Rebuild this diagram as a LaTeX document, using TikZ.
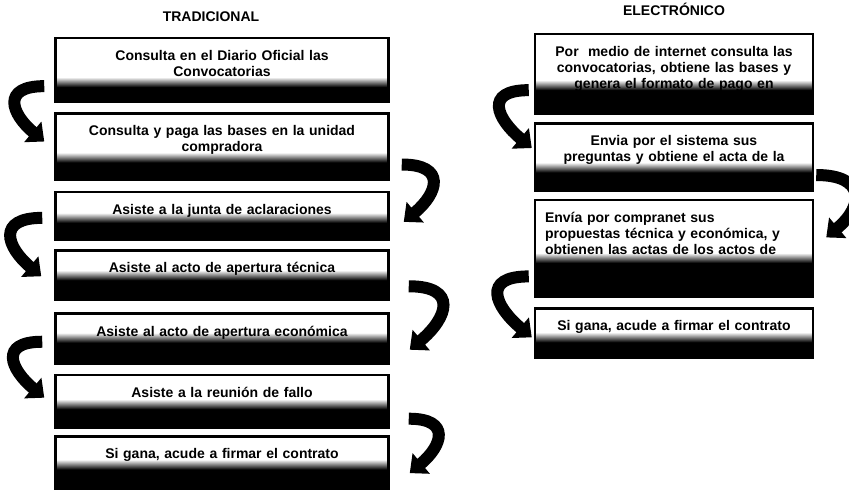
\documentclass[tikz,border=0pt]{standalone}
\usepackage{fontspec}
\setmainfont{Liberation Sans}
\usepackage{tikz}
\usetikzlibrary{arrows.meta, positioning}

\begin{document}
\begin{tikzpicture}[
    node distance=10pt,
    stepbox/.style 2 args={rectangle, draw=black, line width=2.5pt, fill=white, inner xsep=10pt, inner ysep=12pt, align=center, text depth=#1, font=\bfseries\fontsize{14}{16}\selectfont,
        path picture={
            \fill[black] (path picture bounding box.south west) rectangle ([yshift=#2]path picture bounding box.south east);
            \shade[top color=white, middle color=black!55, bottom color=black] ([yshift=#2]path picture bounding box.south west) rectangle ([yshift=#2+10pt]path picture bounding box.south east);
        }},
    tradbox/.style 2 args={stepbox={#1}{#2}, text width=313pt},
    elecbox/.style 2 args={stepbox={#1}{#2}, text width=258pt},
    heading/.style={inner sep=0pt, font=\bfseries\fontsize{14}{16}\selectfont},
    curlarrow/.style={-{Triangle[length=15pt, width=26pt]}, line width=12pt, black}
]
\useasboundingbox (0,0) rectangle (849pt,490pt);

% Tradicional
\node[tradbox={29.7pt}{15pt}, anchor=north] (t1) at (222pt,453pt) {Consulta en el Diario Oficial las\\Convocatorias};
\node[tradbox={31.7pt}{17pt}, below=9pt of t1] (t2) {Consulta y paga las bases en la unidad\\compradora};
\node[tradbox={13.7pt}{17pt}, below=10pt of t2] (t3) {Asiste a la junta de aclaraciones};
\node[tradbox={15.7pt}{20pt}, below=8pt of t3] (t4) {Asiste al acto de apertura técnica};
\node[tradbox={15.7pt}{21pt}, below=11pt of t4] (t5) {Asiste al acto de apertura económica};
\node[tradbox={18.7pt}{19pt}, below=9pt of t5] (t6) {Asiste a la reunión de fallo};
\node[tradbox={18.7pt}{20pt}, below=6pt of t6] (t7) {Si gana, acude a firmar el contrato};

% Electronico
\node[elecbox={45.7pt}{24pt}, anchor=north] (e1) at (674pt,457pt) {Por \ medio de internet consulta las\\convocatorias, obtiene las bases y\\genera el formato de pago en};
\node[elecbox={32.7pt}{18pt}, below=7pt of e1] (e2) {Envia por el sistema sus\\preguntas y obtiene el acta de la};
\node[elecbox={62.7pt}{34pt}, below=7pt of e2, align=left] (e3) {Envía por compranet sus\\propuestas técnica y económica, y\\obtienen las actas de los actos de};
\node[elecbox={15.7pt}{16pt}, below=9pt of e3] (e4) {Si gana, acude a firmar el contrato};

% Titulos
\node[heading, above=15pt of t1, xshift=-11pt] (trad) {TRADICIONAL};
\node[heading, above=17pt of e1] (elec) {ELECTRÓNICO};

% Flechas
\draw[curlarrow] ([xshift=-10pt, yshift=-16pt]t1.west) to[out=180, in=140, looseness=2] ([xshift=-10pt, yshift=5pt]t2.west);
\draw[curlarrow] ([xshift=12pt, yshift=-18pt]t2.east) to[out=0, in=40, looseness=2] ([xshift=14pt, yshift=-6pt]t3.east);
\draw[curlarrow] ([xshift=-12pt, yshift=-2pt]t3.west) to[out=180, in=140, looseness=2] ([xshift=-13pt, yshift=-1pt]t4.west);
\draw[curlarrow] ([xshift=19pt, yshift=-11pt]t4.east) to[out=0, in=40, looseness=2] ([xshift=20pt, yshift=-11pt]t5.east);
\draw[curlarrow] ([xshift=-12pt, yshift=-3pt]t5.west) to[out=180, in=140, looseness=2] ([xshift=-10pt, yshift=4pt]t6.west);
\draw[curlarrow] ([xshift=19pt, yshift=-17pt]t6.east) to[out=0, in=40, looseness=2] ([xshift=20pt, yshift=-10pt]t7.east);
\draw[curlarrow] ([xshift=-5pt, yshift=-16pt]e1.west) to[out=180, in=140, looseness=2] ([xshift=-2pt, yshift=9pt]e2.west);
\draw[curlarrow] ([xshift=2pt, yshift=-18pt]e2.east) to[out=0, in=40, looseness=2] ([xshift=12pt, yshift=11pt]e3.east);
\draw[curlarrow] ([xshift=-5pt, yshift=-28pt]e3.west) to[out=180, in=140, looseness=2] ([xshift=-2pt, yshift=-4pt]e4.west);

\end{tikzpicture}
\end{document}
